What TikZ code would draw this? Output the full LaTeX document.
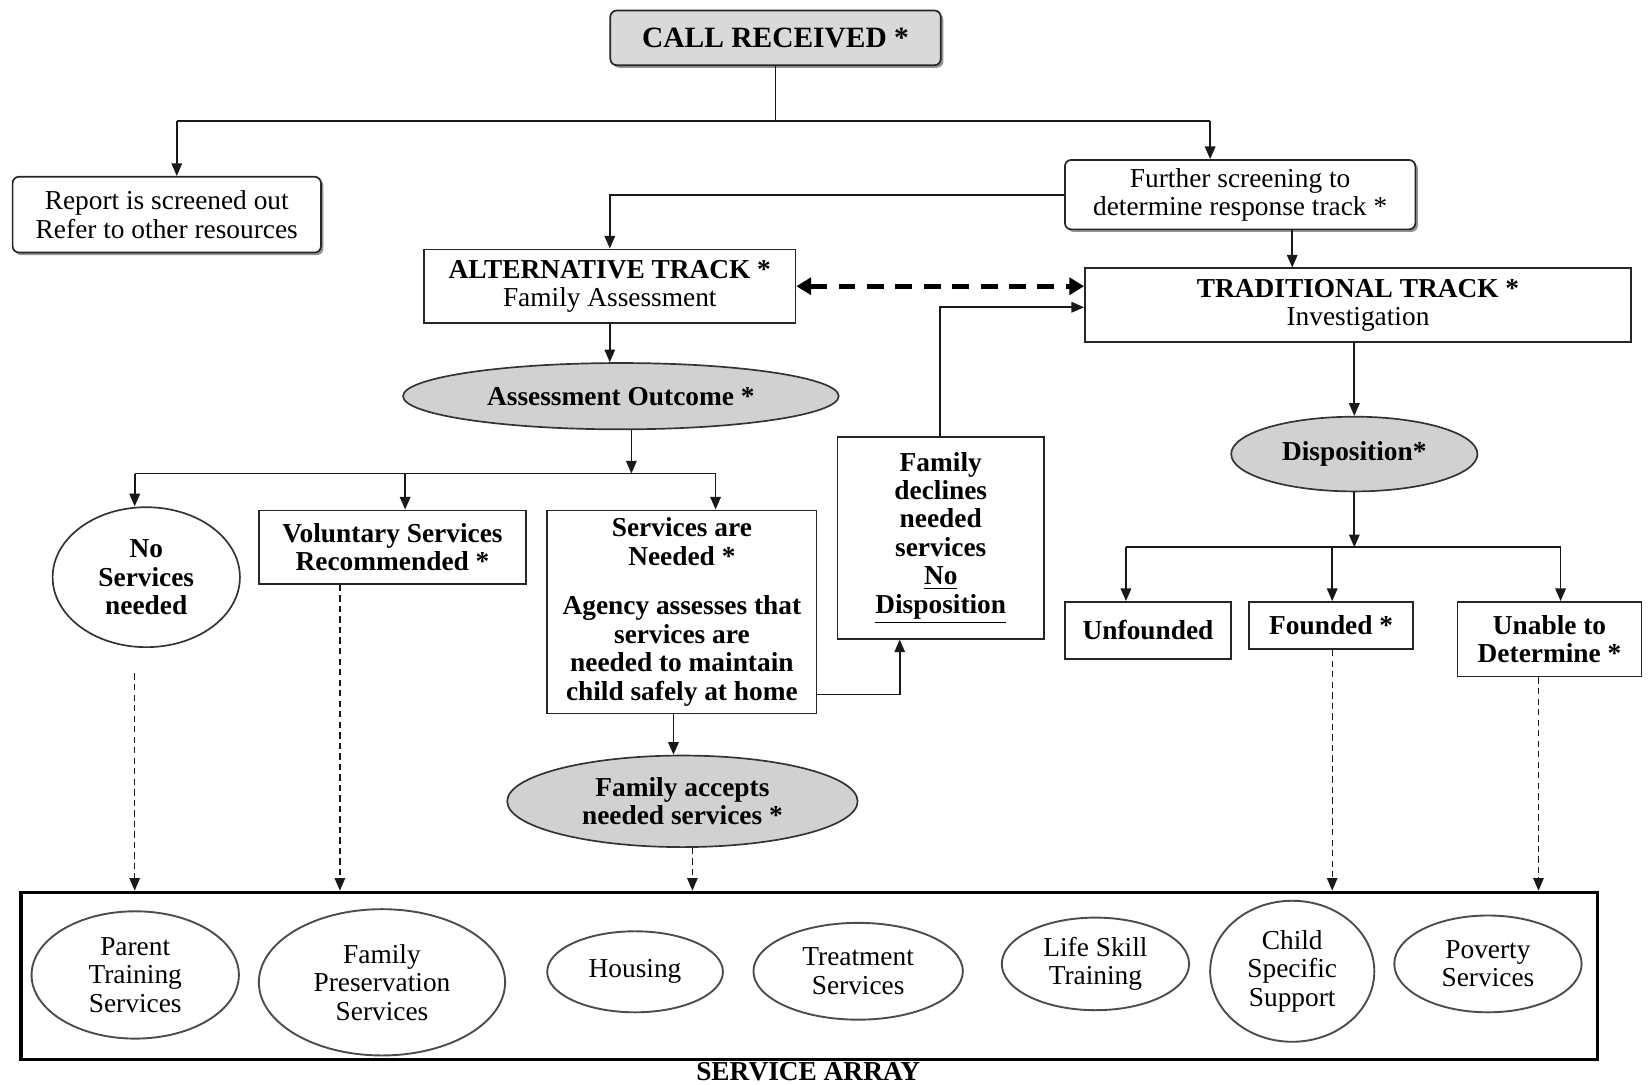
\documentclass[tikz,border=0pt]{standalone}
\usepackage{fontspec}
\setmainfont{Liberation Serif}
\usetikzlibrary{arrows.meta,shapes.geometric,shadows}
\begin{document}
\begin{tikzpicture}[x=0.5pt,y=-0.5pt,
  txt/.style={font=\fontsize{13}{13.5}\selectfont, align=center, inner sep=0pt},
  btxt/.style={font=\fontsize{13}{13.5}\selectfont\bfseries, align=center, inner sep=0pt},
  box/.style={rectangle, draw=black!85, line width=0.8pt, fill=white},
  rbox/.style={box, rounded corners=3pt, drop shadow={shadow xshift=1.2pt,shadow yshift=-1.2pt,fill=black!70,opacity=0.6}},
  gell/.style={ellipse, draw=black!80, line width=0.8pt, fill=black!18},
  wel/.style={ellipse, draw=black!80, line width=0.8pt, fill=white},
  sell/.style={ellipse, draw=black!70, line width=0.9pt, fill=white},
  line/.style={draw=black!90, line width=0.8pt},
  arr/.style={line, -{Triangle[length=6pt,width=5pt]}},
  darr/.style={draw=black!90, line width=0.6pt, dash pattern=on 3pt off 2pt, -{Triangle[length=6pt,width=5pt]}},
  bigdash/.style={draw=black, line width=2.2pt, dash pattern=on 8pt off 5.5pt, {Triangle[length=7pt,width=8pt]}-{Triangle[length=7pt,width=8pt]}},
]
\useasboundingbox (0,0) rectangle (1568,1031);

% ---- nodes ----
\node[rbox, btxt, fill=black!15, minimum width=157pt, minimum height=26pt, font=\fontsize{14}{15}\selectfont\bfseries] (call) at (737,36) {CALL RECEIVED *};
\node[rbox, txt, minimum width=146.5pt, minimum height=36pt] (report) at (158.5,204) {Report is screened out\\Refer to other resources};
\node[rbox, txt, minimum width=166.5pt, minimum height=33pt] (further) at (1178.5,185) {Further screening to\\determine response track *};
\node[box, txt, minimum width=176.5pt, minimum height=35pt] (alt) at (579.5,272) {\textbf{ALTERNATIVE TRACK *}\\Family Assessment};
\node[box, txt, minimum width=259.5pt, minimum height=35pt] (trad) at (1290.5,290) {\textbf{TRADITIONAL TRACK *}\\Investigation};
\node[gell, btxt, minimum width=207pt, minimum height=31.5pt] (assess) at (590,376.5) {Assessment Outcome *};
\node[wel, btxt, minimum width=89pt, minimum height=66.5pt] (nosvc) at (139,548.5) {No\\Services\\needed};
\node[box, btxt, minimum width=127pt, minimum height=35pt] (vol) at (373,520) {Voluntary Services\\Recommended *};
\node[box, btxt, minimum width=128pt, minimum height=96.5pt] (needed) at (648,581.5) {Services are\\Needed *\\[10pt]Agency assesses that\\services are\\needed to maintain\\child safely at home};
\node[box, btxt, minimum width=98pt, minimum height=96pt] (declines) at (894,511) {Family\\declines\\needed\\services\\\underline{No}\\\underline{Disposition}};
\node[gell, btxt, minimum width=166.5pt, minimum height=43.5pt] (accepts) at (648.5,761.5) {Family accepts\\needed services *};
\node[gell, btxt, minimum width=117pt, minimum height=35.5pt] (disp) at (1287,431.5) {Disposition*};
\node[box, btxt, minimum width=79pt, minimum height=27pt] (unf) at (1091,599) {Unfounded};
\node[box, btxt, minimum width=78pt, minimum height=22.5pt] (found) at (1265,594.5) {Founded *};
\node[box, btxt, minimum width=87.5pt, minimum height=35.5pt] (unable) at (1472.5,607.5) {Unable to\\Determine *};

\node[draw=black, line width=1.6pt, minimum width=749pt, minimum height=79.5pt, inner sep=0pt] (array) at (769,927.5) {};
\node[font=\fontsize{13}{13.5}\selectfont\bfseries, inner sep=0pt, anchor=base] (arraylbl) at (768,1027) {SERVICE ARRAY};

\node[sell, txt, minimum width=98.5pt, minimum height=60.5pt] (parent) at (128.5,926.5) {Parent\\Training\\Services};
\node[sell, txt, minimum width=117pt, minimum height=69.5pt] (famp) at (363,933.5) {Family\\Preservation\\Services};
\node[sell, txt, minimum width=83.5pt, minimum height=38.5pt] (housing) at (603.5,923.5) {Housing};
\node[sell, txt, minimum width=99.5pt, minimum height=46pt] (treat) at (815.5,923) {Treatment\\Services};
\node[sell, txt, minimum width=89pt, minimum height=44pt] (life) at (1041,916) {Life Skill\\Training};
\node[sell, txt, minimum width=78pt, minimum height=67pt] (child) at (1228,923) {Child\\Specific\\Support};
\node[sell, txt, minimum width=89pt, minimum height=46pt] (poverty) at (1414,916) {Poverty\\Services};

% ---- connectors ----
\coordinate (jl) at (168,115);
\coordinate (jr) at (1150,115);
\draw[line] (call.south) -- (call.south |- jl);
\draw[line] (jl) -- (jr);
\draw[arr] (jl) -- (jl |- report.north);
\draw[arr] (jr) -- (jr |- further.north);
\draw[arr] (further.west) -| (alt.north);
\coordinate (fx) at (1228,0);
\draw[arr] (fx |- further.south) -- (fx |- trad.north);
\draw[bigdash] (alt.east) -- (alt.east -| trad.west);
\draw[arr] (alt.south) -- (alt.south |- assess.north);

\coordinate (ao) at (600,450);
\draw[arr] (assess.south -| ao) -- (ao);
\coordinate (b1) at (128,450);
\coordinate (b2) at (385,450);
\coordinate (b3) at (680,450);
\draw[line] (b1) -- (b3);
\draw[arr] (b1) -- (b1 |- nosvc.north);
\draw[arr] (b2) -- (b2 |- vol.north);
\draw[arr] (b3) -- (b3 |- needed.north);

\coordinate (k) at (855,660);
\draw[arr] (needed.east |- k) -- (k) -- (k |- declines.south);
\coordinate (m) at (893,292);
\draw[arr] (declines.north -| m) -- (m) -- (m -| trad.west);
\coordinate (n) at (640,0);
\draw[arr] (needed.south -| n) -- (n |- accepts.north);

\coordinate (d1) at (128,640);
\draw[darr] (d1) -- (d1 |- array.north);
\coordinate (d2) at (323,0);
\draw[darr] (vol.south -| d2) -- (d2 |- array.north);
\coordinate (d3) at (658,0);
\draw[darr] (accepts.south -| d3) -- (d3 |- array.north);
\coordinate (d4) at (1266,0);
\draw[darr] (found.south -| d4) -- (d4 |- array.north);
\coordinate (d5) at (1462,0);
\draw[darr] (unable.south -| d5) -- (d5 |- array.north);

\coordinate (tx) at (1287,0);
\draw[arr] (trad.south -| tx) -- (tx |- disp.north);
\coordinate (dj) at (1287,520);
\draw[arr] (disp.south) -- (dj);
\coordinate (e1) at (1070,520);
\coordinate (e2) at (1266,520);
\coordinate (e3) at (1483,520);
\draw[line] (e1) -- (e3);
\draw[arr] (e1) -- (e1 |- unf.north);
\draw[arr] (e2) -- (e2 |- found.north);
\draw[arr] (e3) -- (e3 |- unable.north);
\end{tikzpicture}
\end{document}
